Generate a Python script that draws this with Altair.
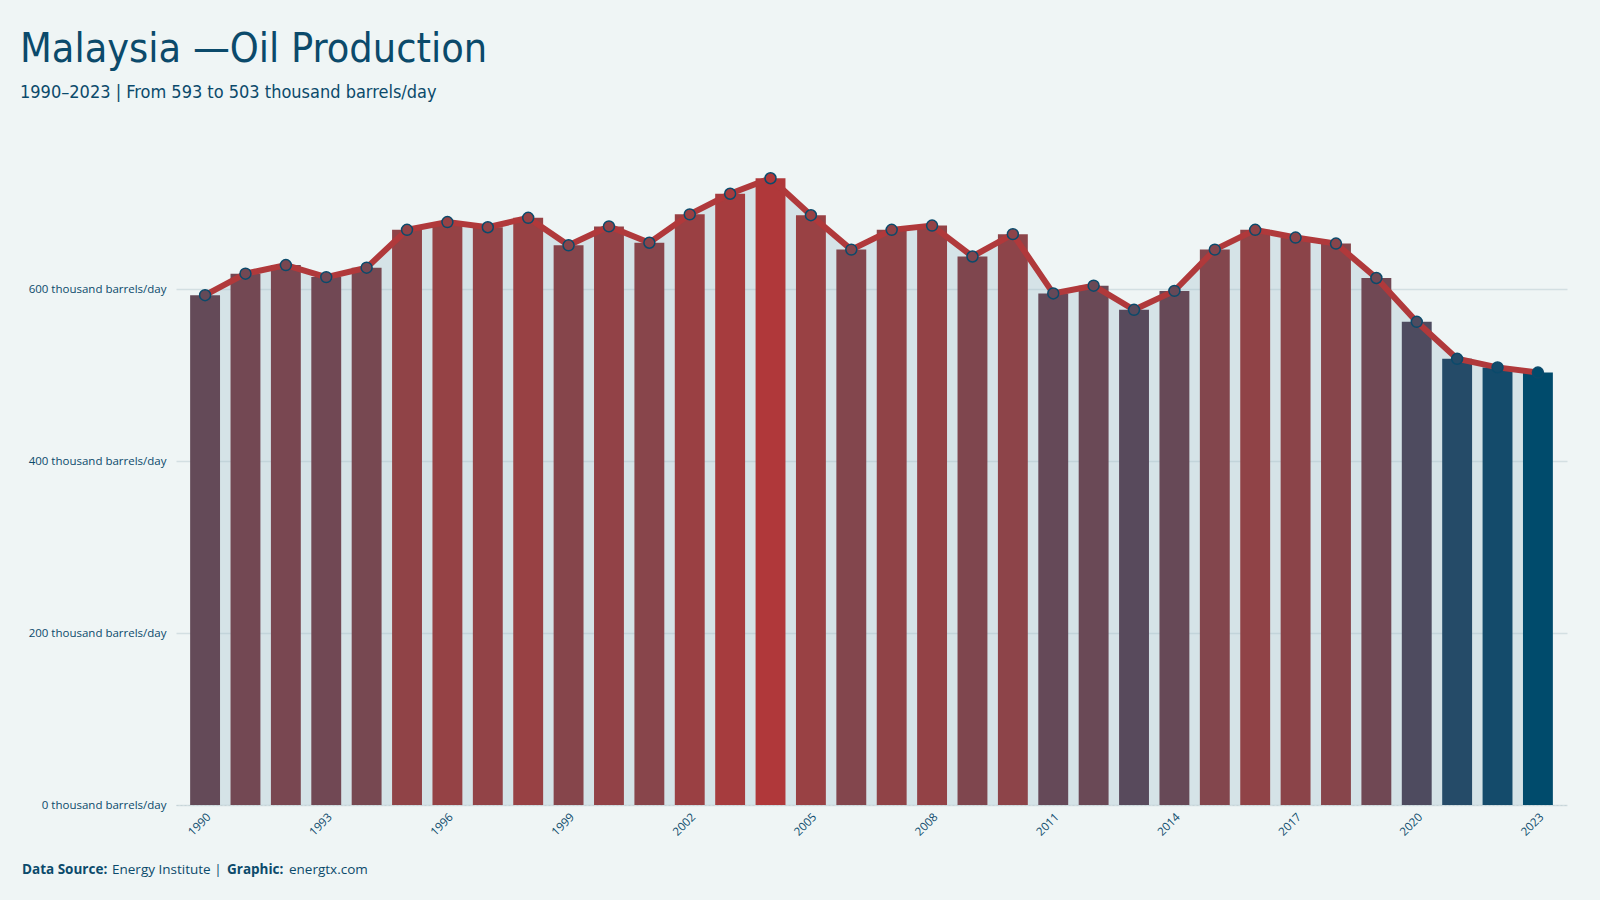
import altair as alt
import pandas as pd

# Malaysia oil production, thousand barrels per day
years = list(range(1990, 2024))
production = [593, 618, 628, 614, 625, 669, 678, 672, 683, 651, 673,
              654, 687, 711, 729, 686, 646, 669, 674, 638, 664,
              595, 604, 576, 598, 646, 669, 660, 653, 613, 562, 519, 509, 503]
tick_years = list(range(1990, 2024, 3))
y_ticks = [0, 200, 400, 600]

df = pd.DataFrame({"year": years, "value": production})

INK = "#0b4a6b"
BG = "#eff5f5"
RED = "#b0393b"
NARROW = "Liberation Sans Narrow, DejaVu Sans Condensed, sans-serif"
BODY = "Open Sans, Noto Sans, sans-serif"

W, H = 1391, 662

color_scale = alt.Scale(domain=[min(production), max(production)],
                        range=["#004b6c", "#b0383a"], interpolate="lab")

x_enc = alt.X("year:O",
              scale=alt.Scale(paddingInner=0.26, paddingOuter=0.35),
              axis=alt.Axis(values=tick_years, labelAngle=-45, title=None,
                            ticks=False, grid=False, domain=True,
                            domainColor="#c6d4d8", domainDash=[2, 2], domainWidth=1,
                            labelColor=INK, labelFont=BODY, labelFontSize=11.5,
                            labelPadding=6))
y_enc = alt.Y("value:Q",
              scale=alt.Scale(domain=[0, 770], nice=False, zero=True),
              axis=alt.Axis(values=y_ticks, title=None, domain=False, ticks=False,
                            labelExpr="datum.value + ' thousand barrels/day'",
                            gridColor="#d3dfe2", gridWidth=1.5,
                            labelColor=INK, labelFont=BODY, labelFontSize=11.5,
                            labelPadding=10))

base = alt.Chart(df)

area = base.mark_area(color="#9fbfca", opacity=0.32).encode(x=x_enc, y=y_enc)
bars = base.mark_bar().encode(
    x=x_enc, y=y_enc,
    color=alt.Color("value:Q", scale=color_scale, legend=None))
line = base.mark_line(color=RED, strokeWidth=6).encode(x=x_enc, y=y_enc)
dots = base.mark_circle(size=120, opacity=1, stroke=INK, strokeWidth=1.5).encode(
    x=x_enc, y=y_enc,
    fill=alt.Fill("value:Q", scale=color_scale, legend=None))

# footer credit line, placed below the plot area
one = pd.DataFrame({"k": [0]})
foot_y = 731
def foot(text, x, bold):
    return alt.Chart(one).mark_text(
        text=text, align="left", baseline="alphabetic", font=BODY,
        fontSize=13.5, fontWeight="bold" if bold else "normal", color=INK
    ).encode(x=alt.value(x), y=alt.value(foot_y))

footer = (foot("Data Source:", 22 - 176, True)
          + foot("Energy Institute |", 112 - 176, False)
          + foot("Graphic:", 227 - 176, True)
          + foot("energtx.com", 289 - 176, False))

chart = alt.layer(area, bars, line, dots, footer).properties(
    width=W, height=H,
    title=alt.TitleParams(
        text="Malaysia \u2014Oil Production",
        subtitle="1990\u20132023 | From 593 to 503 thousand barrels/day",
        anchor="start", frame="bounds", dx=-2, offset=40,
        font=NARROW, fontSize=41, fontWeight="normal", color=INK,
        subtitleFont=NARROW, subtitleFontSize=18, subtitleColor=INK,
        subtitlePadding=13),
    autosize=alt.AutoSizeParams(type="none"),
    padding={"left": 176, "top": 143, "right": 33, "bottom": 95},
).configure(background=BG).configure_view(stroke=None)

chart.save("out.html", embed_options={"renderer": "svg", "actions": False})
